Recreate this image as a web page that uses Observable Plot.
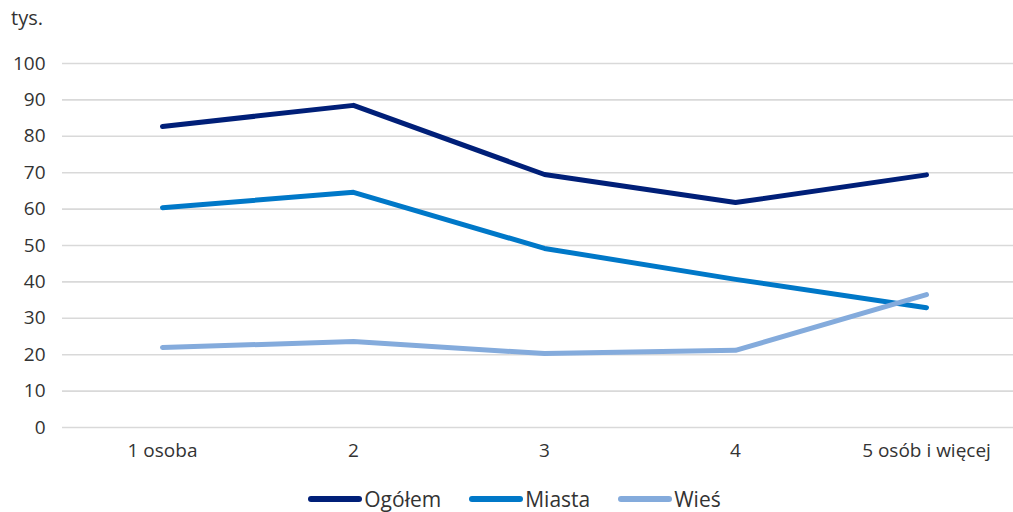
<!DOCTYPE html>
<html>
<head>
<meta charset="utf-8">
<script src="https://cdn.jsdelivr.net/npm/d3@7"></script>
<script src="https://cdn.jsdelivr.net/npm/@observablehq/plot@0.6"></script>
<style>
  html, body { margin: 0; padding: 0; background: #fff; }
  body { width: 1013px; height: 512px; overflow: hidden; font-family: "Open Sans", Lato, sans-serif; color: #333; }
  #legend { position: absolute; top: 485px; left: 0; width: 1013px; display: flex; justify-content: center; gap: 28px; font-size: 21px; padding-left: 16px; box-sizing: border-box; }
  .item { display: flex; align-items: center; }
  .sw { display: inline-block; width: 54px; height: 6px; border-radius: 3px; margin-right: 2px; }
  #unit { position: absolute; left: 11px; top: 4px; font-size: 20px; }
</style>
</head>
<body>
<div id="chart"></div>
<div id="unit">tys.</div>
<div id="legend"></div>
<script>
const categories = ["1 osoba", "2", "3", "4", "5 osób i więcej"];
const seriesNames = ["Ogółem", "Miasta", "Wieś"];
const ogolem = [82.7, 88.5, 69.5, 61.8, 69.4];
const miasta = [60.4, 64.6, 49.2, 40.7, 32.9];
const wies = [22.0, 23.6, 20.3, 21.2, 36.5];
const colors = ["#001f78", "#0078c8", "#84abdc"];
const yTicks = [0, 10, 20, 30, 40, 50, 60, 70, 80, 90, 100];

const seriesValues = [ogolem, miasta, wies];
const data = seriesNames.flatMap((s, i) => categories.map((c, j) => ({series: s, cat: c, value: seriesValues[i][j]})));

const chart = Plot.plot({
  width: 1013,
  height: 480,
  marginLeft: 62,
  marginRight: 0,
  marginTop: 63,
  marginBottom: 53,
  style: {fontFamily: '"Open Sans", Lato, sans-serif', fontSize: "19px", color: "#333", background: "#fff"},
  x: {type: "point", domain: categories, range: [160, 927], padding: 0, label: null},
  y: {domain: [0, 100], ticks: yTicks, label: null},
  color: {domain: seriesNames, range: colors},
  marks: [
    Plot.ruleY(yTicks, {stroke: "#d9d9d9", strokeWidth: 1.6}),
    Plot.axisY({ticks: yTicks, tickSize: 0, tickPadding: 17, fontSize: 19, fill: "#333"}),
    Plot.axisX({tickSize: 0, tickPadding: 16, fontSize: 19, fill: "#333"}),
    Plot.line(data, {x: "cat", y: "value", z: "series", stroke: "series", strokeWidth: 5, strokeLinecap: "round", strokeLinejoin: "round", curve: "linear"})
  ]
});
document.getElementById("chart").appendChild(chart);

const legend = document.getElementById("legend");
seriesNames.forEach((s, i) => {
  const it = document.createElement("div");
  it.className = "item";
  const sw = document.createElement("span");
  sw.className = "sw";
  sw.style.background = colors[i];
  it.appendChild(sw);
  const t = document.createElement("span");
  t.textContent = s;
  it.appendChild(t);
  legend.appendChild(it);
});
</script>
</body>
</html>
